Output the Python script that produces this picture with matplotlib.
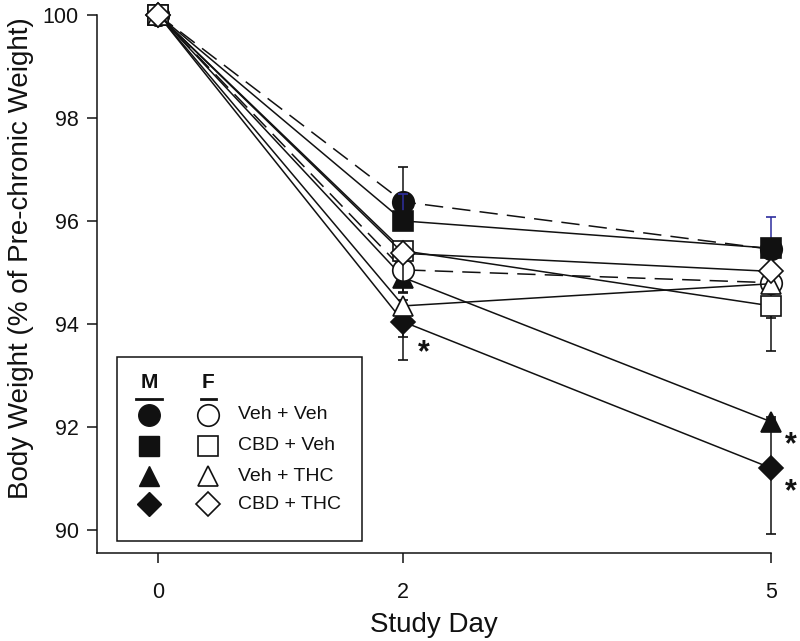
import matplotlib.pyplot as plt
import matplotlib.patches as patches

plt.rcParams['font.family'] = ['Liberation Sans', 'DejaVu Sans']

# ---- data ----
days = [0, 2, 5]
groups = ['Veh + Veh', 'CBD + Veh', 'Veh + THC', 'CBD + THC']

male_veh_veh = [100, 96.37, 95.45]
male_cbd_veh = [100, 96.00, 95.47]
male_veh_thc = [100, 94.90, 92.10]
male_cbd_thc = [100, 94.04, 91.20]

female_veh_veh = [100, 95.05, 94.80]
female_cbd_veh = [100, 95.42, 94.35]
female_veh_thc = [100, 94.35, 94.78]
female_cbd_thc = [100, 95.37, 95.02]

# error bars (lower / upper), most are hidden behind the markers
male_err_lo = [[0, 0.12, 0.12], [0, 0.12, 0.12], [0, 0.30, 0.10], [0, 0.74, 1.28]]
male_err_hi = [[0, 0.68, 0.12], [0, 0.52, 0.60], [0, 0.10, 0.10], [0, 0.12, 0.95]]
female_err_lo = [[0, 0.25, 0.68], [0, 0.80, 0.88], [0, 0.60, 0.12], [0, 0.12, 0.12]]
female_err_hi = [[0, 0.12, 0.12], [0, 0.12, 0.12], [0, 0.12, 0.12], [0, 0.12, 0.12]]

sig_group = ['CBD + THC', 'Veh + THC', 'CBD + THC']
sig_day = [2, 5, 5]

male = [male_veh_veh, male_cbd_veh, male_veh_thc, male_cbd_thc]
female = [female_veh_veh, female_cbd_veh, female_veh_thc, female_cbd_thc]

# ---- style ----
ink = '#111111'
markers = ['o', 's', '^', 'D']
msizes = [15.5, 14, 15, 12.5]
dashed = (0, (12, 6))
lstyles = [dashed, '-', '-', '-']
errcols = [ink, '#2e2e9e', ink, ink]

fig = plt.figure(figsize=(8, 6.41), dpi=100)
ax = fig.add_axes([97 / 800, (641 - 553) / 641, 674 / 800, 538 / 641])

z = 3
for sex, means, lo, hi in [('M', male, male_err_lo, male_err_hi),
                           ('F', female, female_err_lo, female_err_hi)]:
    for i, g in enumerate(groups):
        face = ink if sex == 'M' else 'white'
        ecol = errcols[i] if sex == 'M' else ink
        ax.errorbar(days, means[i], yerr=[lo[i], hi[i]], color=ink, ecolor=ecol,
                    elinewidth=1.1, capsize=3.5, capthick=1.1,
                    marker=markers[i], markersize=msizes[i],
                    markerfacecolor=face, markeredgecolor=ink, markeredgewidth=1.2,
                    linestyle=lstyles[i], linewidth=1.1, zorder=z, clip_on=False)
        z += 1

# significance stars
for g, d in zip(sig_group, sig_day):
    yv = male[groups.index(g)][days.index(d)]
    dy = -31 if d == 2 else -24
    ax.annotate('*', xy=(d, yv), xytext=(20, dy), textcoords='offset pixels',
                ha='center', va='center', fontsize=22, fontweight='bold', color=ink)

ax.set_xlim(-0.5, 5)
ax.set_ylim(89.55, 100)
ax.set_xticks(days)
ax.set_yticks([90, 92, 94, 96, 98, 100])
for s in ['top', 'right']:
    ax.spines[s].set_visible(False)
for s in ['left', 'bottom']:
    ax.spines[s].set_linewidth(1.1)
    ax.spines[s].set_color(ink)
ax.tick_params(axis='both', direction='out', length=7, width=1.1, colors=ink,
               labelsize=15.5)
ax.tick_params(axis='y', pad=6)
ax.tick_params(axis='x', pad=14)
ax.set_xlabel('Study Day', fontsize=20, labelpad=6, color=ink)
ax.set_ylabel('Body Weight (% of Pre-chronic Weight)', fontsize=20, color=ink)
ax.yaxis.set_label_coords(-0.094, 0.548)

# ---- legend box ----
box = patches.Rectangle((0.030, 0.022), 0.363, 0.342, transform=ax.transAxes,
                        facecolor='white', edgecolor=ink, linewidth=1.1, zorder=20)
ax.add_patch(box)
xm, xf, xt = 0.077, 0.165, 0.209
ax.text(xm, 0.316, 'M', transform=ax.transAxes, ha='center', va='center',
        fontsize=15, fontweight='bold', zorder=21, color=ink)
ax.text(xf, 0.316, 'F', transform=ax.transAxes, ha='center', va='center',
        fontsize=15, fontweight='bold', zorder=21, color=ink)
ax.plot([xm - 0.019, xm + 0.019], [0.287, 0.287], transform=ax.transAxes,
        color=ink, lw=2, zorder=21)
ax.plot([xf - 0.011, xf + 0.011], [0.287, 0.287], transform=ax.transAxes,
        color=ink, lw=2, zorder=21)
rows = [0.257, 0.199, 0.143, 0.091]
for i, g in enumerate(groups):
    ax.plot([xm], [rows[i]], transform=ax.transAxes, marker=markers[i],
            markersize=msizes[i], color=ink, zorder=21, clip_on=False)
    ax.plot([xf], [rows[i]], transform=ax.transAxes, marker=markers[i],
            markersize=msizes[i], markerfacecolor='white', markeredgecolor=ink,
            markeredgewidth=1.2, zorder=21, clip_on=False)
    ax.text(xt, rows[i], g, transform=ax.transAxes, ha='left', va='center',
            fontsize=14, zorder=21, color=ink)

fig.savefig('out.png', dpi=100, facecolor='white')
